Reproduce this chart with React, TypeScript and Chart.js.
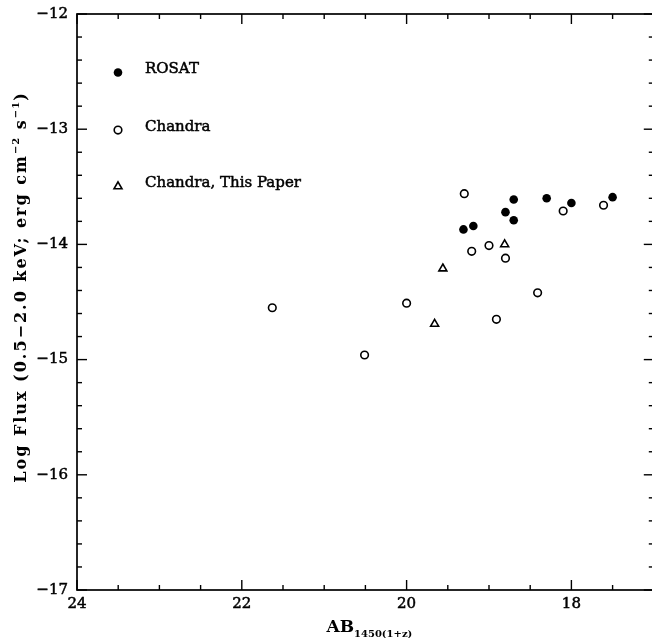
import React, { useEffect, useRef } from "react";
import { Chart, registerables } from "chart.js";

Chart.register(...registerables);

// ---- Data ----
const rosatX = [19.31, 19.19, 18.8, 18.7, 18.7, 18.3, 18.0, 17.5];
const rosatY = [-13.87, -13.84, -13.72, -13.79, -13.61, -13.6, -13.64, -13.59];

const chandraX = [21.63, 20.51, 20.0, 19.3, 19.21, 19.0, 18.91, 18.8, 18.41, 18.1, 17.61];
const chandraY = [-14.55, -14.96, -14.51, -13.56, -14.06, -14.01, -14.65, -14.12, -14.42, -13.71, -13.66];

const paperX = [19.66, 19.56, 18.81];
const paperY = [-14.69, -14.21, -14.0];

const xMajorTicks = [24, 22, 20, 18];
const yMajorTicks = [-12, -13, -14, -15, -16, -17];
const legendLabels = ["ROSAT", "Chandra", "Chandra, This Paper"];

const X_MIN = 17;
const X_MAX = 24;
const Y_MIN = -17;
const Y_MAX = -12;

const FONT = '"DejaVu Serif", serif';

function toPoints(xs: number[], ys: number[]) {
  return xs.map((x, i) => ({ x, y: ys[i] }));
}

function fmt(v: number) {
  return v < 0 ? "\u2212" + Math.abs(v) : String(v);
}

type Seg = { t: string; sup?: boolean; sub?: boolean };

function drawRich(
  ctx: CanvasRenderingContext2D,
  segs: Seg[],
  size: number,
  small: number,
  spacing: number
) {
  const c: any = ctx;
  const widths = segs.map((s) => {
    ctx.font = `bold ${s.sup || s.sub ? small : size}px ${FONT}`;
    c.letterSpacing = (s.sup || s.sub ? spacing * 0.5 : spacing) + "px";
    return ctx.measureText(s.t).width;
  });
  const total = widths.reduce((a, b) => a + b, 0);
  let x = -total / 2;
  segs.forEach((s, i) => {
    ctx.font = `bold ${s.sup || s.sub ? small : size}px ${FONT}`;
    c.letterSpacing = (s.sup || s.sub ? spacing * 0.5 : spacing) + "px";
    const dy = s.sup ? -size * 0.42 : s.sub ? size * 0.3 : 0;
    ctx.fillText(s.t, x, dy);
    x += widths[i];
  });
  c.letterSpacing = "0px";
}

function drawMarker(ctx: CanvasRenderingContext2D, kind: string, x: number, y: number) {
  ctx.save();
  ctx.strokeStyle = "#000";
  ctx.lineWidth = 1.6;
  ctx.beginPath();
  if (kind === "filled") {
    ctx.arc(x, y, 4.3, 0, Math.PI * 2);
    ctx.fillStyle = "#000";
    ctx.fill();
  } else if (kind === "open") {
    ctx.arc(x, y, 3.8, 0, Math.PI * 2);
    ctx.fillStyle = "#fff";
    ctx.fill();
    ctx.stroke();
  } else {
    const r = 4.6;
    for (let k = 0; k < 3; k++) {
      const a = (k * 2 * Math.PI) / 3;
      const px = x + Math.sin(a) * r;
      const py = y - Math.cos(a) * r;
      if (k === 0) ctx.moveTo(px, py);
      else ctx.lineTo(px, py);
    }
    ctx.closePath();
    ctx.fillStyle = "#fff";
    ctx.fill();
    ctx.stroke();
  }
  ctx.restore();
}

function boldText(ctx: CanvasRenderingContext2D, t: string, x: number, y: number) {
  ctx.fillText(t, x, y);
  ctx.lineWidth = 0.5;
  ctx.strokeStyle = "#000";
  ctx.strokeText(t, x, y);
}

const framePlugin = {
  id: "frameTicks",
  beforeDatasetsDraw(chart: any) {
    const ctx: CanvasRenderingContext2D = chart.ctx;
    const { left, right, top, bottom } = chart.chartArea;
    const xs = chart.scales.x;
    const ys = chart.scales.y;
    ctx.save();
    ctx.strokeStyle = "#000";
    ctx.lineWidth = 1.7;
    ctx.strokeRect(left, top, right - left, bottom - top);

    ctx.lineWidth = 1.4;
    const seg = (x1: number, y1: number, x2: number, y2: number) => {
      ctx.beginPath();
      ctx.moveTo(x1, y1);
      ctx.lineTo(x2, y2);
      ctx.stroke();
    };
    for (let i = 0; i <= (X_MAX - X_MIN) * 2; i++) {
      const v = X_MAX - i * 0.5;
      const px = xs.getPixelForValue(v);
      const major = xMajorTicks.some((m) => Math.abs(m - v) < 1e-6);
      const len = major ? 10 : 5;
      seg(px, bottom, px, bottom - len);
      seg(px, top, px, top + len);
    }
    for (let i = 0; i <= (Y_MAX - Y_MIN) * 5; i++) {
      const v = Y_MIN + i * 0.2;
      const py = ys.getPixelForValue(v);
      const major = yMajorTicks.some((m) => Math.abs(m - v) < 1e-6);
      const len = major ? 10 : 5;
      seg(left, py, left + len, py);
      seg(right, py, right - len, py);
    }

    // tick labels
    ctx.fillStyle = "#000";
    ctx.font = `15px ${FONT}`;
    ctx.textAlign = "right";
    ctx.textBaseline = "middle";
    yMajorTicks.forEach((v) => {
      boldText(ctx, fmt(v), left - 9, ys.getPixelForValue(v));
    });
    ctx.textAlign = "center";
    ctx.textBaseline = "top";
    xMajorTicks.forEach((v) => {
      boldText(ctx, fmt(v), xs.getPixelForValue(v), bottom + 7);
    });

    // x title
    ctx.save();
    ctx.translate((left + right) / 2 + 4, 632);
    ctx.textAlign = "left";
    ctx.textBaseline = "alphabetic";
    drawRich(ctx, [{ t: "AB" }, { t: "1450(1+z)", sub: true }], 17, 10, 0);
    ctx.restore();

    // y title
    ctx.save();
    ctx.translate(26, 287);
    ctx.rotate(-Math.PI / 2);
    ctx.textAlign = "left";
    ctx.textBaseline = "alphabetic";
    drawRich(
      ctx,
      [
        { t: "Log Flux (0.5\u22122.0 keV; erg cm" },
        { t: "\u22122", sup: true },
        { t: " s" },
        { t: "\u22121", sup: true },
        { t: ")" },
      ],
      16,
      10,
      2
    );
    ctx.restore();

    // legend
    const kinds = ["filled", "open", "triangle"];
    const legendY = [Y_MAX - 0.49, Y_MAX - 0.99, Y_MAX - 1.48];
    const symX = left + 41;
    ctx.font = `15px ${FONT}`;
    ctx.textAlign = "left";
    ctx.textBaseline = "middle";
    legendLabels.forEach((label, i) => {
      const py = ys.getPixelForValue(legendY[i]);
      drawMarker(ctx, kinds[i], symX, py + 2);
      ctx.fillStyle = "#000";
      boldText(ctx, label, symX + 27, py - 1);
    });
    ctx.restore();
  },
};

export default function App() {
  const canvasRef = useRef<HTMLCanvasElement | null>(null);

  useEffect(() => {
    if (!canvasRef.current) return;
    const chart = new Chart(canvasRef.current, {
      type: "scatter",
      data: {
        datasets: [
          {
            label: legendLabels[0],
            data: toPoints(rosatX, rosatY),
            pointStyle: "circle",
            pointRadius: 4.3,
            pointBackgroundColor: "#000",
            pointBorderColor: "#000",
            pointBorderWidth: 0,
          },
          {
            label: legendLabels[1],
            data: toPoints(chandraX, chandraY),
            pointStyle: "circle",
            pointRadius: 3.8,
            pointBackgroundColor: "#fff",
            pointBorderColor: "#000",
            pointBorderWidth: 1.6,
          },
          {
            label: legendLabels[2],
            data: toPoints(paperX, paperY),
            pointStyle: "triangle",
            pointRadius: 4.6,
            pointBackgroundColor: "#fff",
            pointBorderColor: "#000",
            pointBorderWidth: 1.6,
          },
        ],
      },
      options: {
        animation: false,
        responsive: false,
        devicePixelRatio: 1,
        layout: { padding: { left: 77, right: 6, top: 14, bottom: 48 } },
        plugins: {
          legend: { display: false },
          tooltip: { enabled: false },
        },
        scales: {
          x: { type: "linear", min: X_MIN, max: X_MAX, reverse: true, display: false },
          y: { type: "linear", min: Y_MIN, max: Y_MAX, display: false },
        },
      },
      plugins: [framePlugin],
    });
    return () => chart.destroy();
  }, []);

  return (
    <div
      style={{
        position: "absolute",
        left: 0,
        top: 0,
        width: 652,
        height: 638,
        overflow: "hidden",
        background: "#fff",
      }}
    >
      <canvas ref={canvasRef} width={660} height={638} style={{ display: "block" }} />
    </div>
  );
}
